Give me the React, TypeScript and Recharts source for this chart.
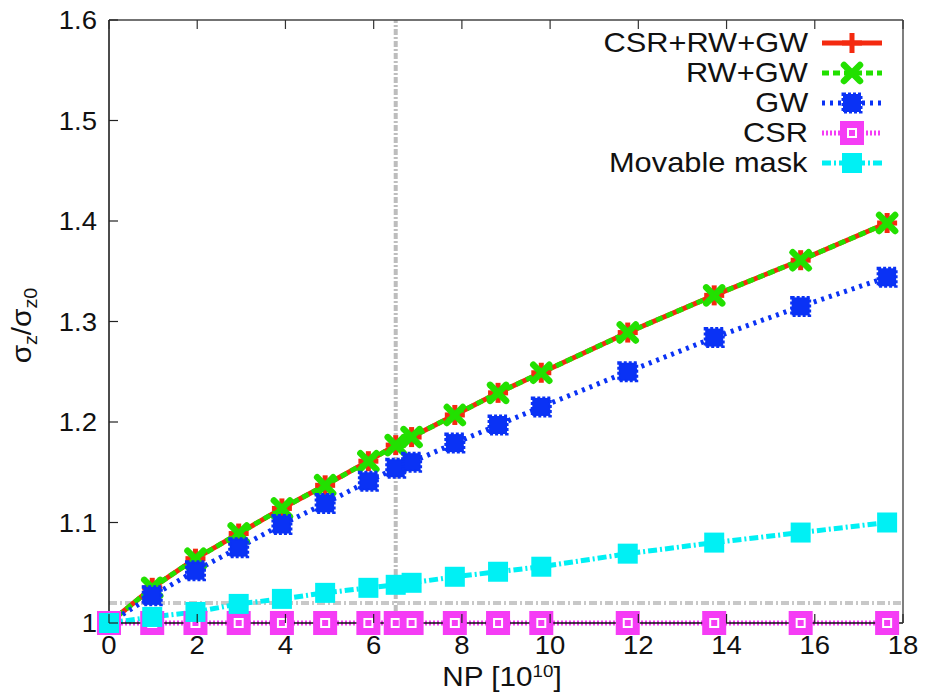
import { LineChart, Line, XAxis, YAxis, ReferenceLine, Legend, Label } from "recharts";

const npValues = [0, 0.98, 1.96, 2.94, 3.92, 4.9, 5.88, 6.5, 6.86, 7.84, 8.82, 9.8, 11.76, 13.72, 15.68, 17.64];
const csrRwGw = [1.0, 1.035, 1.064, 1.089, 1.114, 1.137, 1.161, 1.177, 1.185, 1.207, 1.229, 1.249, 1.289, 1.326, 1.361, 1.398];
const rwGw = [1.0, 1.035, 1.064, 1.089, 1.114, 1.137, 1.161, 1.177, 1.185, 1.207, 1.229, 1.249, 1.289, 1.326, 1.361, 1.398];
const gw = [1.0, 1.027, 1.052, 1.075, 1.098, 1.119, 1.141, 1.154, 1.16, 1.179, 1.197, 1.215, 1.25, 1.284, 1.315, 1.344];
const csr = [1.0, 1.0, 1.0, 1.0, 1.0, 1.0, 1.0, 1.0, 1.0, 1.0, 1.0, 1.0, 1.0, 1.0, 1.0, 1.0];
const movableMask = [1.0, 1.006, 1.011, 1.019, 1.024, 1.03, 1.035, 1.038, 1.04, 1.046, 1.051, 1.056, 1.069, 1.08, 1.09, 1.1];

const xTicks = [0, 2, 4, 6, 8, 10, 12, 14, 16, 18];
const yTicks = [1, 1.1, 1.2, 1.3, 1.4, 1.5, 1.6];
const yTickLabels = ["1", "1.1", "1.2", "1.3", "1.4", "1.5", "1.6"];

const markerLine = 6.5;
const markerLevel = 1.02;

const data = npValues.map((np, i) => ({
  np,
  csrRwGw: csrRwGw[i],
  rwGw: rwGw[i],
  gw: gw[i],
  csr: csr[i],
  mask: movableMask[i],
}));

const FONT = "'Liberation Sans', Arial, sans-serif";

type Kind = "plus" | "cross" | "blotch" | "hollow" | "square";

const series: { key: string; label: string; color: string; dash?: string; width: number; kind: Kind }[] = [
  { key: "csrRwGw", label: "CSR+RW+GW", color: "#f42a10", width: 5, kind: "plus" },
  { key: "rwGw", label: "RW+GW", color: "#22e000", dash: "7 4", width: 5, kind: "cross" },
  { key: "gw", label: "GW", color: "#0a32f5", dash: "3 5", width: 5, kind: "blotch" },
  { key: "csr", label: "CSR", color: "#f53cf5", dash: "2 2", width: 5, kind: "hollow" },
  { key: "mask", label: "Movable mask", color: "#00f0f4", dash: "9 3 2 3", width: 5, kind: "square" },
];

const Marker = ({ kind, cx, cy, color }: { kind: Kind; cx: number; cy: number; color: string }) => {
  if (cx == null || cy == null) return null;
  switch (kind) {
    case "plus":
      return (
        <g>
          <rect x={cx - 10} y={cy - 2.5} width={20} height={5} fill={color} />
          <rect x={cx - 2.5} y={cy - 10} width={5} height={20} fill={color} />
        </g>
      );
    case "cross":
      return (
        <g stroke={color} strokeWidth={6.5} strokeLinecap="round">
          <line x1={cx - 8} y1={cy - 8} x2={cx + 8} y2={cy + 8} />
          <line x1={cx - 8} y1={cy + 8} x2={cx + 8} y2={cy - 8} />
        </g>
      );
    case "blotch":
      return (
        <rect x={cx - 9} y={cy - 9} width={18} height={18} fill={color} stroke={color} strokeWidth={3} strokeDasharray="3 2" />
      );
    case "hollow":
      return (
        <g>
          <rect x={cx - 12} y={cy - 12} width={24} height={24} fill={color} />
          <rect x={cx - 5} y={cy - 5} width={10} height={10} fill="#ffffff" />
          <rect x={cx - 3} y={cy - 3} width={6} height={6} fill={color} />
        </g>
      );
    default:
      return <rect x={cx - 10} y={cy - 10} width={20} height={20} fill={color} />;
  }
};

const BottomTick = ({ x, y, payload }: any) => (
  <g>
    <line x1={x} y1={y} x2={x} y2={y - 9} stroke="#222" strokeWidth={1.2} />
    <text transform={`translate(${x},${y + 31}) scale(1.1,1)`} textAnchor="middle" fontSize={25} fontFamily={FONT} fill="#111">
      {payload.value}
    </text>
  </g>
);

const TopTick = ({ x, y }: any) => <line x1={x} y1={y} x2={x} y2={y + 9} stroke="#333" strokeWidth={1.2} />;

const LeftTick = ({ x, y, payload, index }: any) => (
  <g>
    <line x1={x} y1={y} x2={x + 9} y2={y} stroke="#222" strokeWidth={1.2} />
    <text transform={`translate(${x - 12},${y + 9}) scale(1.1,1)`} textAnchor="end" fontSize={25} fontFamily={FONT} fill="#111">
      {yTickLabels[index] ?? payload.value}
    </text>
  </g>
);

const RightTick = ({ x, y }: any) => <line x1={x} y1={y} x2={x - 9} y2={y} stroke="#333" strokeWidth={1.2} />;

const XTitle = ({ viewBox }: any) => (
  <text
    transform={`translate(${viewBox.x + viewBox.width / 2 - 4},${viewBox.y + 63}) scale(1.1,1)`}
    textAnchor="middle"
    fontSize={27}
    fontFamily={FONT}
    fill="#111"
  >
    NP [10<tspan dy={-9} fontSize={17}>10</tspan>
    <tspan dy={9}>]</tspan>
  </text>
);

const YTitle = ({ viewBox }: any) => (
  <text
    transform={`translate(${viewBox.x - 18},${viewBox.y + viewBox.height / 2 + 4}) rotate(-90) scale(1.1,1)`}
    textAnchor="middle"
    fontSize={27}
    fontFamily={FONT}
    fill="#111"
  >
    σ<tspan dy={6} fontSize={18}>z</tspan>
    <tspan dy={-6}>/σ</tspan>
    <tspan dy={6} fontSize={18}>z0</tspan>
  </text>
);

const LegendBox = () => (
  <div style={{ fontFamily: FONT, color: "#111" }}>
    {series.map((s) => (
      <div key={s.key} style={{ display: "flex", alignItems: "center", justifyContent: "flex-end", height: 30 }}>
        <span
          style={{
            display: "inline-block",
            fontSize: 28,
            lineHeight: "30px",
            transform: "scaleX(1.1)",
            transformOrigin: "right center",
            whiteSpace: "nowrap",
          }}
        >
          {s.label}
        </span>
        <svg width={64} height={30} style={{ marginLeft: 12 }}>
          <line x1={2} y1={15} x2={62} y2={15} stroke={s.color} strokeWidth={s.width} strokeDasharray={s.dash} />
          <Marker kind={s.kind} cx={32} cy={15} color={s.color} />
        </svg>
      </div>
    ))}
  </div>
);

export default function App() {
  return (
    <div style={{ position: "absolute", left: 0, top: 0, background: "#fff" }}>
      <LineChart width={926} height={694} data={data} margin={{ top: 19, right: 22, bottom: 31, left: 49 }}>
        <XAxis
          xAxisId="b"
          dataKey="np"
          type="number"
          domain={[0, 18]}
          ticks={xTicks}
          interval={0}
          height={40}
          tickSize={0}
          tickMargin={0}
          tick={<BottomTick />}
          axisLine={{ stroke: "#111", strokeWidth: 1.5 }}
          tickLine={false}
        >
          <Label content={XTitle} />
        </XAxis>
        <XAxis
          xAxisId="t"
          orientation="top"
          dataKey="np"
          type="number"
          domain={[0, 18]}
          ticks={xTicks}
          interval={0}
          height={1}
          tickSize={0}
          tickMargin={0}
          tick={<TopTick />}
          axisLine={{ stroke: "#444", strokeWidth: 1.5 }}
          tickLine={false}
        />
        <YAxis
          yAxisId="l"
          type="number"
          domain={[1, 1.6]}
          ticks={yTicks}
          interval={0}
          width={60}
          tickSize={0}
          tickMargin={0}
          tick={<LeftTick />}
          axisLine={{ stroke: "#111", strokeWidth: 1.5 }}
          tickLine={false}
        >
          <Label content={YTitle} />
        </YAxis>
        <YAxis
          yAxisId="r"
          orientation="right"
          type="number"
          domain={[1, 1.6]}
          ticks={yTicks}
          interval={0}
          width={1}
          tickSize={0}
          tickMargin={0}
          tick={<RightTick />}
          axisLine={{ stroke: "#555", strokeWidth: 1.5 }}
          tickLine={false}
        />
        <ReferenceLine xAxisId="b" yAxisId="l" x={markerLine} stroke="#bdbdbd" strokeWidth={4} strokeDasharray="6 2 2 2" />
        <ReferenceLine xAxisId="b" yAxisId="l" y={markerLevel} stroke="#c8c8c8" strokeWidth={4} strokeDasharray="8 3 2 3" />
        {series.map((s) => (
          <Line
            key={s.key}
            xAxisId="b"
            yAxisId="l"
            dataKey={s.key}
            name={s.label}
            type="linear"
            stroke={s.color}
            strokeWidth={s.width}
            strokeDasharray={s.dash}
            isAnimationActive={false}
            activeDot={false}
            dot={(p: any) => <Marker key={`${s.key}-${p.index}`} kind={s.kind} cx={p.cx} cy={p.cy} color={s.color} />}
          />
        ))}
        <Legend
          layout="horizontal"
          verticalAlign="middle"
          align="center"
          content={<LegendBox />}
          wrapperStyle={{ top: 28, right: 42, left: "auto", width: "auto" }}
        />
      </LineChart>
    </div>
  );
}
